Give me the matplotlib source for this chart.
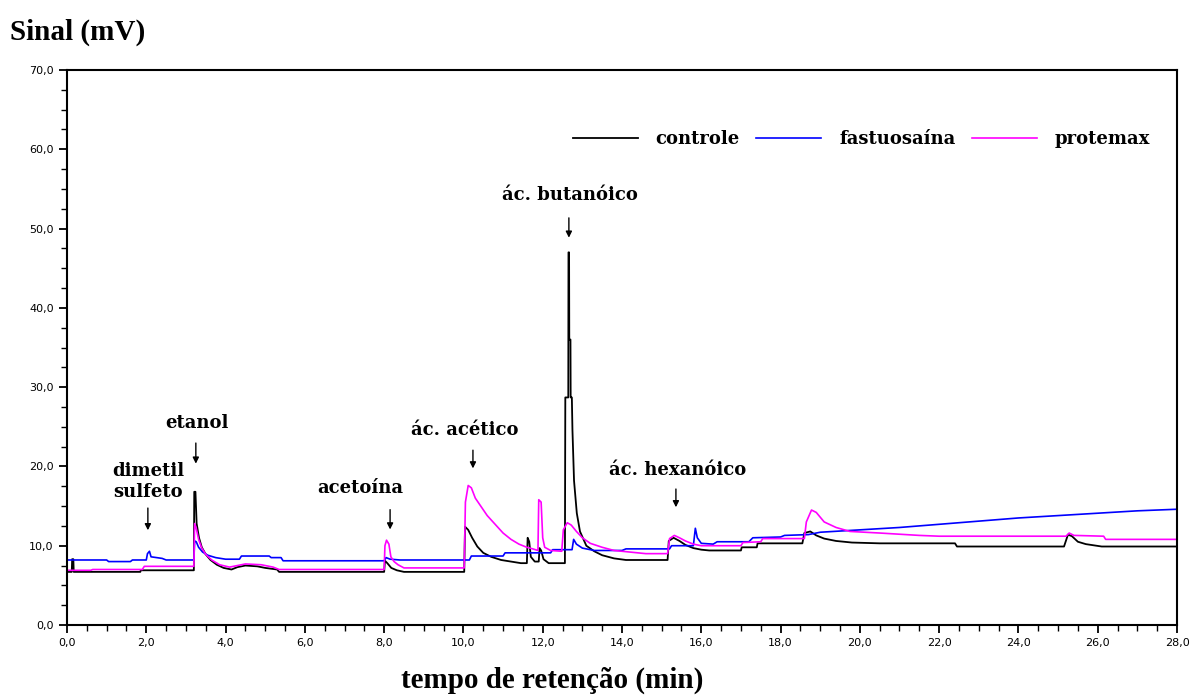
import matplotlib
matplotlib.use("Agg")
import matplotlib.pyplot as plt
import numpy as np
from matplotlib.ticker import MultipleLocator, FuncFormatter

# controle (preto)
controle_t = [0.00, 0.12, 0.13, 0.16, 0.17, 1.85, 1.86, 3.20, 3.21, 3.24, 3.27, 3.33, 3.40, 3.50,
              3.62, 3.78, 3.95, 4.15, 4.30, 4.50, 4.80, 5.00, 5.30, 5.35, 8.00, 8.02, 8.08, 8.18,
              8.32, 8.50, 10.02, 10.04, 10.12, 10.22, 10.35, 10.50, 10.70, 10.95, 11.20, 11.45,
              11.60, 11.62, 11.66, 11.70, 11.80, 11.90, 11.92, 11.96, 12.02, 12.15, 12.56, 12.57,
              12.645, 12.65, 12.665, 12.67, 12.70, 12.705, 12.735, 12.75, 12.79, 12.86, 12.94,
              13.10, 13.30, 13.50, 13.80, 14.10, 15.15, 15.18, 15.30, 15.45, 15.60, 15.80, 16.00,
              16.20, 17.00, 17.02, 17.40, 17.42, 18.55, 18.60, 18.75, 18.90, 19.10, 19.40, 19.80,
              20.50, 22.40, 22.45, 25.15, 25.25, 25.35, 25.50, 25.70, 26.10, 28.00]
controle_v = [6.7, 6.7, 8.3, 8.3, 6.7, 6.7, 6.9, 6.9, 16.8, 16.8, 12.8, 11.0, 9.8, 8.9,
              8.2, 7.6, 7.2, 7.0, 7.3, 7.5, 7.4, 7.2, 7.0, 6.7, 6.7, 8.1, 7.8, 7.2,
              6.9, 6.7, 6.7, 12.4, 12.0, 11.0, 9.9, 9.1, 8.6, 8.2, 8.0, 7.8,
              7.8, 11.0, 10.5, 8.6, 8.0, 8.0, 9.7, 9.4, 8.3, 7.8, 7.8, 28.7,
              28.7, 47.0, 47.0, 36.0, 36.0, 28.7, 28.7, 24.6, 18.2, 14.1, 11.8,
              10.0, 9.3, 8.8, 8.4, 8.2, 8.2, 10.6, 11.0, 10.6, 10.1, 9.7, 9.5,
              9.4, 9.4, 9.8, 9.8, 10.3, 10.3, 11.6, 11.8, 11.3, 10.9, 10.6, 10.4,
              10.3, 10.3, 9.9, 9.9, 11.4, 11.2, 10.5, 10.2, 9.9, 9.9]

# fastuosaína (azul)
fastuosaina_t = [0.00, 1.00, 1.05, 1.60, 1.65, 2.00, 2.03, 2.08, 2.12, 2.40, 2.50, 3.20, 3.22,
                 3.26, 3.32, 3.42, 3.55, 3.75, 4.00, 4.35, 4.40, 5.10, 5.15, 5.40, 5.45, 8.00,
                 8.05, 8.15, 8.40, 10.15, 10.20, 11.00, 11.05, 12.20, 12.25, 12.74, 12.78, 12.85,
                 13.00, 13.30, 14.00, 14.10, 15.20, 15.25, 15.80, 15.85, 15.90, 16.00, 16.30,
                 16.40, 17.20, 17.30, 18.00, 18.10, 18.70, 19.00, 20.00, 21.00, 22.00, 23.00,
                 24.00, 25.00, 26.00, 27.00, 28.00]
fastuosaina_v = [8.2, 8.2, 8.0, 8.0, 8.2, 8.2, 9.0, 9.3, 8.6, 8.4, 8.2, 8.2, 10.6,
                 10.5, 9.8, 9.2, 8.8, 8.5, 8.3, 8.3, 8.7, 8.7, 8.5, 8.5, 8.1, 8.1,
                 8.5, 8.3, 8.2, 8.2, 8.7, 8.7, 9.1, 9.1, 9.5, 9.5, 10.8, 10.2,
                 9.7, 9.4, 9.4, 9.6, 9.6, 10.0, 10.0, 12.2, 11.0, 10.3, 10.2,
                 10.5, 10.5, 11.0, 11.1, 11.3, 11.4, 11.7, 12.0, 12.3, 12.7, 13.1,
                 13.5, 13.8, 14.1, 14.4, 14.6]

# protemax (magenta)
protemax_t = [0.00, 0.60, 0.65, 1.90, 1.95, 3.20, 3.22, 3.26, 3.32, 3.40, 3.50, 3.65, 3.85,
              4.10, 4.30, 4.50, 4.90, 5.20, 5.35, 8.00, 8.02, 8.06, 8.12, 8.17, 8.25, 8.35,
              8.50, 10.02, 10.05, 10.12, 10.20, 10.30, 10.45, 10.60, 10.80, 11.00, 11.20,
              11.40, 11.60, 11.75, 11.88, 11.90, 11.96, 12.00, 12.05, 12.20, 12.48, 12.52,
              12.62, 12.72, 12.85, 13.00, 13.20, 13.50, 13.80, 14.20, 14.60, 15.15, 15.20,
              15.32, 15.45, 15.60, 15.80, 16.00, 17.00, 17.05, 17.50, 17.55, 18.60, 18.65,
              18.78, 18.90, 19.10, 19.40, 19.75, 20.50, 21.50, 22.00, 25.20, 25.28, 25.40,
              26.15, 26.20, 28.00]
protemax_v = [6.9, 6.9, 7.0, 7.0, 7.4, 7.4, 12.8, 12.2, 10.8, 9.7, 8.9, 8.2, 7.6,
              7.3, 7.5, 7.7, 7.6, 7.3, 7.0, 7.0, 10.0, 10.7, 10.2, 8.6, 8.0, 7.6,
              7.2, 7.2, 15.5, 17.6, 17.3, 16.0, 14.9, 13.8, 12.7, 11.6, 10.8,
              10.2, 9.8, 9.6, 9.4, 15.8, 15.5, 11.0, 9.8, 9.4, 9.3, 12.0,
              12.9, 12.6, 11.8, 11.0, 10.3, 9.8, 9.4, 9.2, 9.0, 9.0, 10.9,
              11.3, 11.0, 10.6, 10.2, 10.0, 10.0, 10.4, 10.5, 10.9, 10.9, 13.0,
              14.5, 14.2, 13.0, 12.3, 11.8, 11.6, 11.3, 11.2, 11.2, 11.6, 11.3,
              11.2, 10.8, 10.8]

serif_lbl = "DejaVu Serif"
serif_big = "Liberation Serif"

fig = plt.figure(figsize=(12.02, 6.95), dpi=100)
ax = fig.add_axes([67 / 1202, 70 / 695, 1110 / 1202, 555 / 695])

ax.plot(controle_t, controle_v, color="black", lw=1.3, label="controle")
ax.plot(fastuosaina_t, fastuosaina_v, color="#0000ff", lw=1.2, label="fastuosaína")
ax.plot(protemax_t, protemax_v, color="#ff00ff", lw=1.2, label="protemax")

ax.set_xlim(0, 28)
ax.set_ylim(0, 70)
ax.xaxis.set_major_locator(MultipleLocator(2))
ax.xaxis.set_minor_locator(MultipleLocator(0.5))
ax.yaxis.set_major_locator(MultipleLocator(10))
ax.yaxis.set_minor_locator(MultipleLocator(2.5))
fmt = FuncFormatter(lambda v, p: f"{v:.1f}".replace(".", ","))
ax.xaxis.set_major_formatter(fmt)
ax.yaxis.set_major_formatter(fmt)
ax.tick_params(which="major", direction="out", length=6, width=1.3, labelsize=8)
ax.tick_params(which="minor", direction="out", length=4, width=1.0)
for s in ax.spines.values():
    s.set_linewidth(1.5)

# rótulos dos picos
lbl = dict(fontfamily=serif_lbl, fontweight="bold", fontsize=13, ha="center", va="center")
arw = dict(arrowstyle="-|>", color="black", lw=1.0, mutation_scale=9)
ax.text(2.04, 18.1, "dimetil\nsulfeto", linespacing=1.15, **lbl)
ax.annotate("", xy=(2.04, 11.6), xytext=(2.04, 15.1), arrowprops=arw)
ax.text(3.28, 25.5, "etanol", **lbl)
ax.annotate("", xy=(3.25, 20.0), xytext=(3.25, 23.3), arrowprops=arw)
ax.text(7.39, 17.3, "acetoína", **lbl)
ax.annotate("", xy=(8.15, 11.7), xytext=(8.15, 14.9), arrowprops=arw)
ax.text(10.04, 24.6, "ác. acético", **lbl)
ax.annotate("", xy=(10.24, 19.4), xytext=(10.24, 22.4), arrowprops=arw)
ax.text(12.69, 54.2, "ác. butanóico", **lbl)
ax.annotate("", xy=(12.66, 48.5), xytext=(12.66, 51.7), arrowprops=arw)
ax.text(15.41, 19.5, "ác. hexanóico", **lbl)
ax.annotate("", xy=(15.36, 14.5), xytext=(15.36, 17.5), arrowprops=arw)

ax.legend(loc="center right", bbox_to_anchor=(0.984, 0.876), ncol=3, frameon=False,
          handlelength=3.6, handletextpad=1.0, columnspacing=0.9, borderpad=0,
          prop=dict(family=serif_lbl, weight="bold", size=13))

fig.text(10 / 1202, 1 - 32 / 695, "Sinal (mV)", fontfamily=serif_big, fontweight="bold",
         fontsize=21, ha="left", va="center")
fig.text(552 / 1202, 1 - 680 / 695, "tempo de retenção (min)", fontfamily=serif_big,
         fontweight="bold", fontsize=21, ha="center", va="center")

fig.savefig("out.png", dpi=100)
